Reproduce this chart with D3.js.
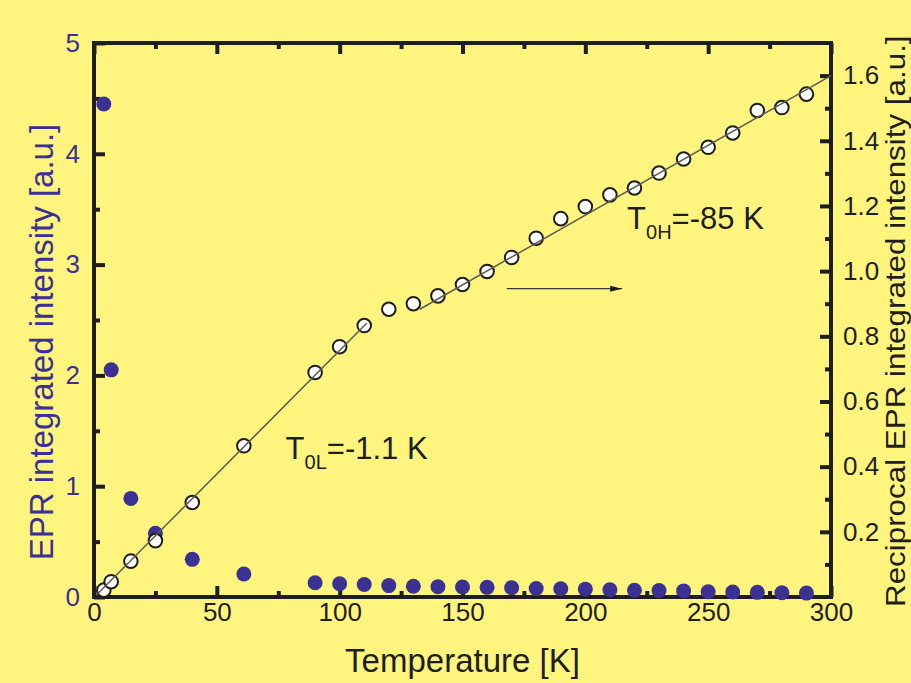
<!DOCTYPE html>
<html>
<head>
<meta charset="utf-8">
<script src="https://cdn.jsdelivr.net/npm/d3@7/dist/d3.min.js"></script>
<style>
body { margin: 0; background: #fff57e; }
svg { display: block; font-family: "Liberation Sans", Arial, sans-serif; }
</style>
</head>
<body>
<script>
// temperatures [K]
var temps = [4, 7, 15, 25, 40, 61, 90, 100, 110, 120, 130, 140, 150, 160, 170, 180, 190, 200,
             210, 220, 230, 240, 250, 260, 270, 280, 290];
// EPR integrated intensity (left axis, filled)
var intensity = [4.45, 2.05, 0.89, 0.575, 0.34, 0.208, 0.129, 0.119, 0.113, 0.103, 0.097, 0.093,
                 0.09, 0.087, 0.084, 0.077, 0.074, 0.071, 0.065, 0.061, 0.058, 0.055, 0.048,
                 0.045, 0.042, 0.039, 0.035];
// reciprocal intensity (right axis, open)
var reciprocal = [0.021, 0.047, 0.11, 0.173, 0.29, 0.464, 0.689, 0.768, 0.833, 0.883, 0.90, 0.924,
                  0.959, 0.999, 1.042, 1.101, 1.161, 1.198, 1.234, 1.255, 1.301, 1.344, 1.38,
                  1.424, 1.493, 1.502, 1.543];
// Curie-Weiss fits [T, 1/I]
var fitLow = [[1, 0.006], [111, 0.84]];
var fitHigh = [[132.6, 0.883], [300, 1.6]];
var arrowT = [168, 215], arrowV = 0.946;

var xTicks = [0, 50, 100, 150, 200, 250, 300];
var xMinor = [25, 75, 125, 175, 225, 275];
var leftTicks = [0, 1, 2, 3, 4, 5];
var leftMinor = [0.5, 1.5, 2.5, 3.5, 4.5];
var rightTicks = [0.2, 0.4, 0.6, 0.8, 1.0, 1.2, 1.4, 1.6];
var rightMinor = [0.1, 0.3, 0.5, 0.7, 0.9, 1.1, 1.3, 1.5];

var W = 911, H = 683;
var margin = {top: 43, right: 80, bottom: 86, left: 94},
    width = W - margin.left - margin.right,
    height = H - margin.top - margin.bottom;
var blue = "#3b3094", ink = "#1e1e1e";

var svg = d3.select("body").append("svg")
    .attr("width", W)
    .attr("height", H);
var g = svg.append("g")
    .attr("transform", "translate(" + margin.left + "," + margin.top + ")");

var x = d3.scaleLinear().domain([0, 300]).range([0, width]);
var yL = d3.scaleLinear().domain([0, 5]).range([height, 0]);
var yR = d3.scaleLinear().domain([0, 1.7]).range([height, 0]);

function ticks(axis, vals, size, fmt) {
  return axis.tickValues(vals).tickSize(size).tickPadding(6).tickFormat(fmt || "");
}

// axes: ticks pointing inward
var gx = g.append("g").attr("transform", "translate(0," + height + ")")
    .call(ticks(d3.axisBottom(x), xTicks, -11, d3.format("d")));
g.append("g").attr("transform", "translate(0," + height + ")")
    .call(ticks(d3.axisBottom(x), xMinor, -6));
g.append("g").call(ticks(d3.axisTop(x), xTicks, -11));
g.append("g").call(ticks(d3.axisTop(x), xMinor, -6));

var gl = g.append("g").call(ticks(d3.axisLeft(yL), leftTicks, -11, d3.format("d")));
g.append("g").call(ticks(d3.axisLeft(yL), leftMinor, -6));

var gr = g.append("g").attr("transform", "translate(" + width + ",0)")
    .call(ticks(d3.axisRight(yR), rightTicks, -11, d3.format(".1f")));
g.append("g").attr("transform", "translate(" + width + ",0)")
    .call(ticks(d3.axisRight(yR), rightMinor, -6));

g.selectAll(".domain").remove();
g.selectAll(".tick line").attr("stroke", ink).attr("stroke-width", 4);
g.selectAll(".tick text").attr("fill", ink).style("font-size", "26px");
gl.selectAll(".tick text").attr("fill", blue).attr("x", -14);
gr.selectAll(".tick text").attr("x", 12);

g.append("rect")
    .attr("width", width).attr("height", height)
    .attr("fill", "none").attr("stroke", ink).attr("stroke-width", 4);

var pts = temps.map(function(t, i) { return {t: t, a: intensity[i], r: reciprocal[i]}; });

g.selectAll(".dot").data(pts).enter().append("circle")
    .attr("class", "dot")
    .attr("cx", function(d) { return x(d.t); })
    .attr("cy", function(d) { return yL(d.a); })
    .attr("r", 7.5)
    .attr("fill", blue);

g.selectAll(".open").data(pts).enter().append("circle")
    .attr("class", "open")
    .attr("cx", function(d) { return x(d.t); })
    .attr("cy", function(d) { return yR(d.r); })
    .attr("r", 6.8)
    .attr("fill", "#fff")
    .attr("stroke", ink)
    .attr("stroke-width", 2);

var line = d3.line()
    .x(function(d) { return x(d[0]); })
    .y(function(d) { return yR(d[1]); });
[fitLow, fitHigh].forEach(function(f) {
  g.append("path").datum(f)
      .attr("d", line)
      .attr("fill", "none")
      .attr("stroke", "#5c5c52")
      .attr("stroke-width", 1.5);
});

// arrow pointing to the right axis
svg.append("defs").append("marker")
    .attr("id", "head")
    .attr("viewBox", "0 0 12 6")
    .attr("refX", 12).attr("refY", 3)
    .attr("markerWidth", 12).attr("markerHeight", 6)
    .attr("markerUnits", "userSpaceOnUse")
    .attr("orient", "auto")
  .append("path")
    .attr("d", "M0,0L12,3L0,6Z")
    .attr("fill", ink);
g.append("line")
    .attr("x1", x(arrowT[0])).attr("x2", x(arrowT[1]))
    .attr("y1", yR(arrowV)).attr("y2", yR(arrowV))
    .attr("stroke", "#3a3a3a").attr("stroke-width", 1.3)
    .attr("marker-end", "url(#head)");

// fit annotations
function label(tx, v, sub, rest) {
  var t = g.append("text")
      .attr("x", x(tx)).attr("y", yR(v))
      .attr("fill", ink).style("font-size", "31px");
  t.append("tspan").text("T");
  t.append("tspan").attr("dy", 10).style("font-size", "20px").text(sub);
  t.append("tspan").attr("dy", -10).text(rest);
}
label(78, 0.425, "0L", "=-1.1 K");
label(217, 1.13, "0H", "=-85 K");

// axis titles
svg.append("text")
    .attr("x", margin.left + width / 2).attr("y", 672)
    .attr("text-anchor", "middle")
    .attr("fill", ink).style("font-size", "33px")
    .text("Temperature [K]");
svg.append("text")
    .attr("transform", "translate(53,342) rotate(-90)")
    .attr("text-anchor", "middle")
    .attr("fill", blue).style("font-size", "33px")
    .text("EPR integrated intensity [a.u.]");
svg.append("text")
    .attr("transform", "translate(905,607) rotate(-90) scale(1.12,1)")
    .attr("text-anchor", "start")
    .attr("fill", ink).style("font-size", "28px")
    .text("Reciprocal EPR integrated intensity [a.u.]");
</script>
</body>
</html>
